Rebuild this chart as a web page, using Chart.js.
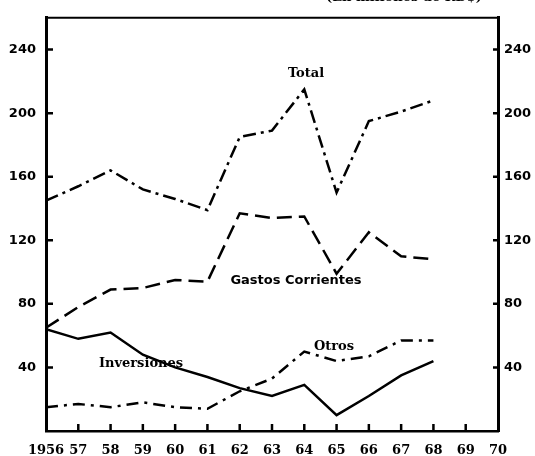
<!DOCTYPE html>
<html>
<head>
<meta charset="utf-8">
<script src="https://cdn.jsdelivr.net/npm/chart.js@4"></script>
<style>
  body { margin: 0; background: #fff; }
  canvas { display: block; }
</style>
</head>
<body>
<canvas id="myChart" width="535" height="456"></canvas>
<script>
// Gastos del gobierno, 1956-1968 (en millones de RD$)
const years = [1956, 1957, 1958, 1959, 1960, 1961, 1962, 1963, 1964, 1965, 1966, 1967, 1968];
const total = [145, 154, 164, 152, 146, 139, 185, 189, 215, 150, 195, 201, 208];
const gastosCorrientes = [65, 78, 89, 90, 95, 94, 137, 134, 135, 99, 125, 110, 108];
const inversiones = [64, 58, 62, 48, 40, 34, 27, 22, 29, 10, 22, 35, 44];
const otros = [15, 17, 15, 18, 15, 14, 25, 33, 50, 44, 47, 57, 57];
const yTicks = [40, 80, 120, 160, 200, 240];

const toPoints = (vals) => vals.map((v, i) => ({ x: years[i], y: v }));

const serifBold = 'bold 13px "DejaVu Serif"';

// Frame top, inward tick marks, series labels and the heading
const extras = {
  id: 'extras',
  afterDraw(chart) {
    const ctx = chart.ctx;
    const area = chart.chartArea;
    const { x, y, y2 } = chart.scales;
    ctx.save();
    ctx.strokeStyle = '#000';
    ctx.lineWidth = 2;
    ctx.beginPath();
    ctx.moveTo(area.left, area.top);
    ctx.lineTo(area.right, area.top);
    ctx.stroke();

    ctx.lineWidth = 2.5;
    ctx.beginPath();
    yTicks.forEach((t) => {
      const py = y.getPixelForValue(t);
      ctx.moveTo(area.left, py);
      ctx.lineTo(area.left + 7, py);
      const py2 = y2.getPixelForValue(t);
      ctx.moveTo(area.right, py2);
      ctx.lineTo(area.right - 5, py2);
    });
    for (let yr = 1957; yr < 1970; yr++) {
      const px = x.getPixelForValue(yr);
      ctx.moveTo(px, area.bottom);
      ctx.lineTo(px, area.bottom - 7);
    }
    ctx.stroke();

    ctx.fillStyle = '#000';
    ctx.textAlign = 'center';
    ctx.textBaseline = 'middle';
    ctx.font = serifBold;
    ctx.fillText('Total', 306, 74);
    ctx.fillText('Otros', 334, 347);
    ctx.fillText('Inversiones', 141, 364);
    ctx.font = 'bold 13px "DejaVu Sans"';
    ctx.fillText('Gastos Corrientes', 296, 281);

    ctx.font = serifBold;
    ctx.textBaseline = 'alphabetic';
    ctx.fillText('(En millones de RD$)', 404, 1);
    ctx.restore();
  }
};

const ctx = document.getElementById('myChart').getContext('2d');
const chart = new Chart(ctx, {
  type: 'line',
  data: {
    datasets: [
      {
        label: 'Total',
        data: toPoints(total),
        borderColor: '#000',
        borderWidth: 2.5,
        borderDash: [13, 5, 3, 5],
        pointRadius: 0,
        fill: false,
        tension: 0
      },
      {
        label: 'Gastos Corrientes',
        data: toPoints(gastosCorrientes),
        borderColor: '#000',
        borderWidth: 2.5,
        borderDash: [15, 7],
        pointRadius: 0,
        fill: false,
        tension: 0
      },
      {
        label: 'Inversiones',
        data: toPoints(inversiones),
        borderColor: '#000',
        borderWidth: 2.5,
        pointRadius: 0,
        fill: false,
        tension: 0
      },
      {
        label: 'Otros',
        data: toPoints(otros),
        borderColor: '#000',
        borderWidth: 2.5,
        borderDash: [12, 6, 3, 6],
        pointRadius: 0,
        fill: false,
        tension: 0
      }
    ]
  },
  options: {
    responsive: false,
    animation: false,
    devicePixelRatio: 1,
    layout: { padding: { top: 13, left: 0, right: 0, bottom: 0 } },
    plugins: {
      legend: { display: false },
      tooltip: { enabled: false }
    },
    scales: {
      x: {
        type: 'linear',
        min: 1956,
        max: 1970,
        afterFit: (s) => { s.height = 25; },
        grid: { display: false, drawTicks: false },
        border: { display: true, color: '#000', width: 2.5 },
        ticks: {
          stepSize: 1,
          padding: 12,
          autoSkip: false,
          maxRotation: 0,
          minRotation: 0,
          color: '#000',
          font: { family: 'DejaVu Serif', weight: 'bold', size: 13 },
          callback: (v) => (v === 1956 ? '1956' : String(v).slice(2))
        }
      },
      y: {
        position: 'left',
        min: 0,
        max: 260,
        afterFit: (s) => { s.width = 46; },
        afterBuildTicks: (s) => { s.ticks = yTicks.map((v) => ({ value: v })); },
        grid: { display: false, drawTicks: false },
        border: { display: true, color: '#000', width: 3 },
        ticks: {
          padding: 10,
          color: '#000',
          font: { family: 'DejaVu Sans', weight: 'bold', size: 13 }
        }
      },
      y2: {
        position: 'right',
        min: 0,
        max: 260,
        afterFit: (s) => { s.width = 37; },
        afterBuildTicks: (s) => { s.ticks = yTicks.map((v) => ({ value: v })); },
        grid: { display: false, drawTicks: false },
        border: { display: true, color: '#000', width: 3 },
        ticks: {
          padding: 6,
          color: '#000',
          font: { family: 'DejaVu Sans', weight: 'bold', size: 13 }
        }
      }
    }
  },
  plugins: [extras]
});
</script>
</body>
</html>
